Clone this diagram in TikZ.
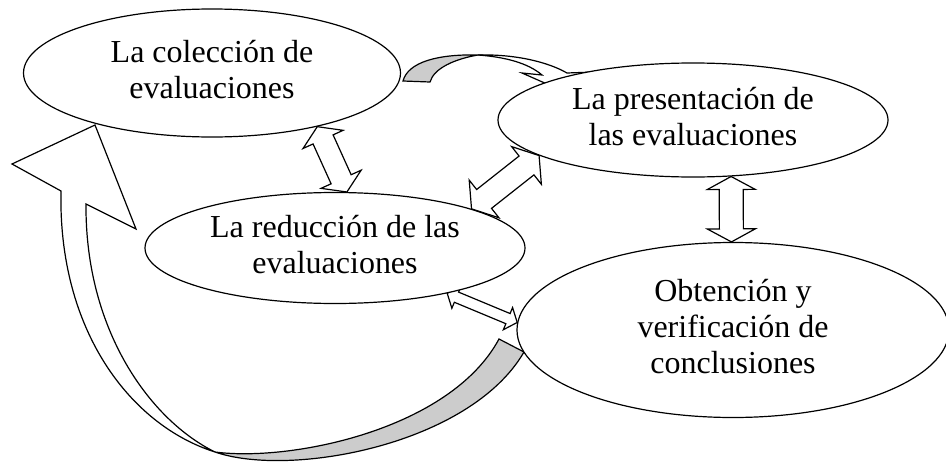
\documentclass[tikz,border=0pt]{standalone}
\usepackage{fontspec}
\setmainfont{Liberation Serif}
\usetikzlibrary{shapes.geometric,calc,backgrounds}
\definecolor{backgray}{RGB}{204,204,204}
\newcommand{\dblarrow}[5]{%
\coordinate (h1) at ($(#1)!#3!(#2)$);
\coordinate (h2) at ($(#2)!#3!(#1)$);
\draw[blk] (#1) -- ($(h1)!#4!90:(#2)$) -- ($(h1)!#5!90:(#2)$) -- ($(h2)!#5!-90:(#1)$) -- ($(h2)!#4!-90:(#1)$) -- (#2) -- ($(h2)!#4!90:(#1)$) -- ($(h2)!#5!90:(#1)$) -- ($(h1)!#5!-90:(#2)$) -- ($(h1)!#4!-90:(#2)$) -- cycle;}
\begin{document}
\begin{tikzpicture}[x=1pt,y=-1pt,
elp/.style={draw=black,line width=1.2pt,ellipse,fill=white,inner sep=0pt,font=\fontsize{32}{36}\selectfont},
blk/.style={draw=black,line width=1.2pt,fill=white,line join=miter},
bck/.style={draw=black,line width=1.2pt,fill=backgray}]
\useasboundingbox (0,0) rectangle (946,466);
\node[elp,minimum width=377pt,minimum height=128pt] (COL) at (212,73) {\begin{tabular}{c}La colección de\\evaluaciones\end{tabular}};
\node[elp,minimum width=390pt,minimum height=114pt] (PRE) at (693,120) {\begin{tabular}{c}La presentación de\\las evaluaciones\end{tabular}};
\node[elp,minimum width=380pt,minimum height=111pt] (RED) at (335,248) {\begin{tabular}{c}La reducción de las\\evaluaciones\end{tabular}};
\node[elp,minimum width=432pt,minimum height=175pt] (CON) at (733,330) {\begin{tabular}{c}Obtención y\\verificación de\\conclusiones\end{tabular}};
\begin{scope}[on background layer]
\dblarrow{COL.-27}{RED.78}{14pt}{22pt}{11pt}
\dblarrow{PRE.193}{RED.16}{16pt}{24pt}{12pt}
\dblarrow{RED.-22}{CON.178}{10pt}{12pt}{5.5pt}
\dblarrow{PRE.-56}{CON.91}{13pt}{24pt}{12pt}
\draw[bck] (403,81) .. controls (408,62) and (438,54) .. (478,55) .. controls (455,59) and (434,68) .. (430,82) -- cycle;
\draw[blk] (478,55) .. controls (515,54) and (548,62) .. (567,73) -- (595,72) -- (556,88) -- (522,73) -- (542,75) .. controls (528,63) and (505,57) .. (478,55) -- cycle;
\draw[bck] (215,452) .. controls (290,478) and (470,445) .. (524,352) -- (499,339) .. controls (450,430) and (290,462) .. (215,452) -- cycle;
\draw[blk] (61,191) -- (12,164) -- (95,125) -- (136,229) -- (86,204) .. controls (85,330) and (150,420) .. (215,452) .. controls (130,425) and (58,330) .. (61,191) -- cycle;
\end{scope}
\end{tikzpicture}
\end{document}
